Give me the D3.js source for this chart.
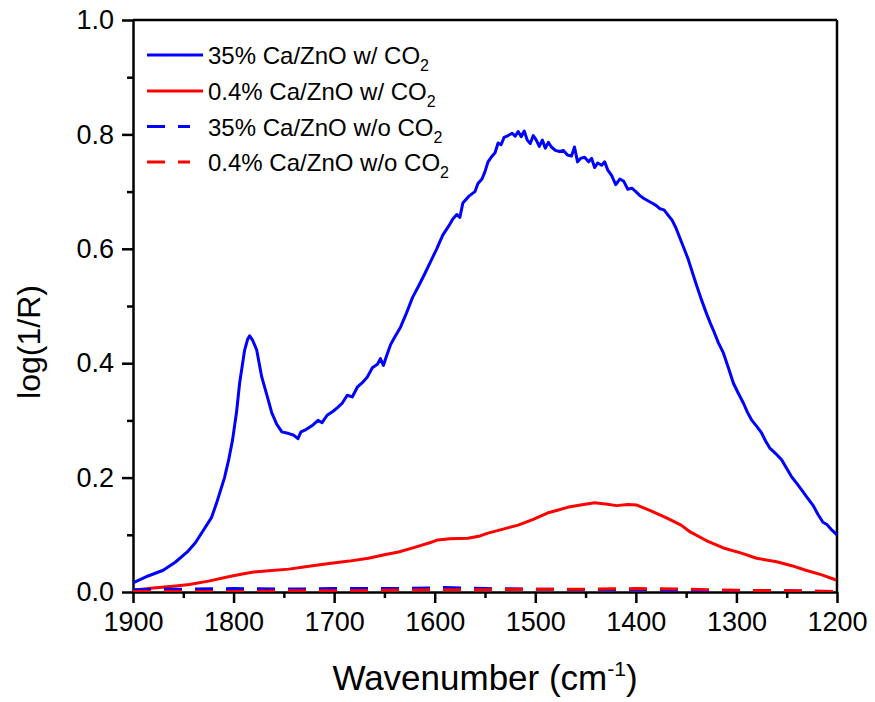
<!DOCTYPE html>
<html>
<head>
<meta charset="utf-8">
<script src="https://cdn.jsdelivr.net/npm/d3@7"></script>
<style>
  body { margin: 0; background: #fff; }
  text { font-family: "Liberation Sans", Arial, sans-serif; fill: #000; }
</style>
</head>
<body>
<div id="chart"></div>
<script>
var svgWidth = 875;
var svgHeight = 702;

var margin = { top: 20, right: 38, bottom: 110, left: 133 };
var width = svgWidth - margin.left - margin.right;
var height = svgHeight - margin.top - margin.bottom;

// series data (wavenumber, log(1/R))
var blueWithCO2 = [
  [1900, 0.016], [1885, 0.028], [1870, 0.038], [1858, 0.052], [1846, 0.070], [1838, 0.086],
  [1830, 0.108], [1822, 0.130], [1817, 0.155], [1809, 0.200], [1805, 0.230], [1801, 0.266],
  [1797, 0.315], [1794, 0.365], [1789, 0.423], [1786, 0.442], [1784, 0.448], [1781, 0.440],
  [1777, 0.423], [1772, 0.376], [1767, 0.345], [1762, 0.313], [1757, 0.293], [1752, 0.280],
  [1745, 0.277], [1740, 0.274], [1736, 0.268], [1733, 0.280], [1728, 0.284], [1721, 0.292],
  [1716, 0.300], [1712, 0.296], [1707, 0.309], [1701, 0.316], [1697, 0.322], [1692, 0.330],
  [1687, 0.344], [1682, 0.341], [1677, 0.358], [1672, 0.366], [1667, 0.376], [1662, 0.392],
  [1657, 0.398], [1654, 0.408], [1651, 0.396], [1648, 0.412], [1644, 0.432], [1640, 0.445],
  [1634, 0.463], [1628, 0.488], [1622, 0.515], [1616, 0.535], [1610, 0.556], [1604, 0.578],
  [1598, 0.600], [1592, 0.624], [1586, 0.640], [1582, 0.652], [1578, 0.660], [1575, 0.655],
  [1572, 0.680], [1566, 0.692], [1560, 0.700], [1557, 0.714], [1553, 0.722], [1550, 0.735],
  [1547, 0.752], [1543, 0.762], [1540, 0.768], [1537, 0.785], [1534, 0.782], [1531, 0.795],
  [1527, 0.798], [1523, 0.802], [1520, 0.797], [1517, 0.805], [1514, 0.796], [1511, 0.806],
  [1508, 0.790], [1505, 0.784], [1502, 0.798], [1499, 0.790], [1496, 0.779], [1493, 0.790],
  [1490, 0.776], [1487, 0.786], [1484, 0.778], [1480, 0.772], [1476, 0.770], [1472, 0.772],
  [1468, 0.764], [1464, 0.762], [1461, 0.778], [1458, 0.752], [1455, 0.758], [1451, 0.760],
  [1447, 0.752], [1444, 0.758], [1441, 0.742], [1438, 0.750], [1434, 0.746], [1431, 0.752],
  [1428, 0.738], [1424, 0.728], [1420, 0.712], [1416, 0.722], [1412, 0.718], [1408, 0.704],
  [1404, 0.706], [1400, 0.700], [1396, 0.693], [1392, 0.688], [1388, 0.684], [1384, 0.680],
  [1380, 0.676], [1376, 0.670], [1372, 0.668], [1368, 0.659], [1364, 0.650], [1360, 0.636],
  [1356, 0.618], [1352, 0.600], [1348, 0.582], [1344, 0.560], [1340, 0.538], [1335, 0.512],
  [1330, 0.488], [1326, 0.470], [1323, 0.458], [1318, 0.436], [1313, 0.418], [1308, 0.392],
  [1303, 0.365], [1298, 0.347], [1293, 0.330], [1289, 0.314], [1285, 0.301], [1280, 0.290],
  [1275, 0.278], [1271, 0.264], [1267, 0.252], [1261, 0.242], [1255, 0.231], [1250, 0.216],
  [1245, 0.201], [1240, 0.190], [1235, 0.178], [1230, 0.166], [1224, 0.152], [1219, 0.136],
  [1214, 0.122], [1210, 0.118], [1205, 0.108], [1200, 0.100]
];

var redWithCO2 = [
  [1900, 0.003], [1880, 0.007], [1860, 0.010], [1844, 0.013], [1825, 0.019], [1804, 0.027],
  [1790, 0.032], [1780, 0.035], [1765, 0.037], [1745, 0.040], [1725, 0.045], [1705, 0.050],
  [1685, 0.054], [1666, 0.059], [1650, 0.065], [1636, 0.070], [1620, 0.078], [1605, 0.086],
  [1597, 0.091], [1585, 0.093], [1567, 0.094], [1555, 0.098], [1547, 0.103], [1532, 0.110],
  [1517, 0.117], [1502, 0.127], [1488, 0.138], [1478, 0.143], [1468, 0.148], [1455, 0.152],
  [1441, 0.156], [1430, 0.154], [1419, 0.151], [1408, 0.153], [1399, 0.152], [1385, 0.142],
  [1369, 0.129], [1355, 0.117], [1346, 0.105], [1330, 0.090], [1313, 0.077], [1295, 0.068],
  [1280, 0.059], [1260, 0.053], [1245, 0.046], [1231, 0.038], [1215, 0.030], [1201, 0.021]
];

var blueWithoutCO2 = [
  [1900, 0.004], [1850, 0.005], [1800, 0.006], [1750, 0.005], [1700, 0.006], [1650, 0.006],
  [1600, 0.007], [1590, 0.008], [1550, 0.006], [1500, 0.005], [1450, 0.004], [1400, 0.004],
  [1350, 0.003], [1300, 0.002], [1250, 0.002], [1200, 0.001]
];

var redWithoutCO2 = [
  [1900, 0.001], [1850, 0.001], [1800, 0.001], [1750, 0.002], [1700, 0.002], [1650, 0.003],
  [1600, 0.004], [1550, 0.004], [1500, 0.005], [1450, 0.005], [1400, 0.006], [1350, 0.005],
  [1300, 0.003], [1250, 0.002], [1200, 0.001]
];

var legendLabels = ["35% Ca/ZnO w/ CO", "0.4% Ca/ZnO w/ CO", "35% Ca/ZnO w/o CO", "0.4% Ca/ZnO w/o CO"];
var xTicks = [1900, 1800, 1700, 1600, 1500, 1400, 1300, 1200];
var xMinor = [1850, 1750, 1650, 1550, 1450, 1350, 1250];
var yTicks = [0, 0.2, 0.4, 0.6, 0.8, 1.0];
var yMinor = [0.1, 0.3, 0.5, 0.7, 0.9];

var series = [
  { data: blueWithCO2, color: "#0000ff", dash: null, label: legendLabels[0] },
  { data: redWithCO2, color: "#ff0000", dash: null, label: legendLabels[1] },
  { data: blueWithoutCO2, color: "#0000ff", dash: "18,13", label: legendLabels[2] },
  { data: redWithoutCO2, color: "#ff0000", dash: "18,13", label: legendLabels[3] }
];

var svg = d3.select("#chart")
  .append("svg")
  .attr("width", svgWidth)
  .attr("height", svgHeight);

var chartGroup = svg.append("g")
  .attr("transform", `translate(${margin.left}, ${margin.top})`);

var xScale = d3.scaleLinear().domain([1900, 1200]).range([0, width]);
var yScale = d3.scaleLinear().domain([0, 1]).range([height, 0]);

// minor ticks
chartGroup.append("g")
  .attr("transform", `translate(0, ${height})`)
  .call(d3.axisBottom(xScale).tickValues(xMinor).tickSize(6).tickFormat(""))
  .call(g => g.select(".domain").remove());
chartGroup.append("g")
  .call(d3.axisLeft(yScale).tickValues(yMinor).tickSize(6).tickFormat(""))
  .call(g => g.select(".domain").remove());

// major axes
var xAxis = chartGroup.append("g")
  .attr("transform", `translate(0, ${height})`)
  .call(d3.axisBottom(xScale).tickValues(xTicks).tickSize(11).tickSizeOuter(0).tickPadding(9).tickFormat(d3.format("d")));
var yAxis = chartGroup.append("g")
  .call(d3.axisLeft(yScale).tickValues(yTicks).tickSize(11).tickSizeOuter(0).tickPadding(8).tickFormat(d3.format(".1f")));

[xAxis, yAxis].forEach(function (ax) {
  ax.selectAll("text").style("font-size", "27px").style("font-family", "'Liberation Sans', Arial, sans-serif");
  ax.select(".domain").attr("stroke-width", 2.5);
});
chartGroup.selectAll(".tick line").attr("stroke-width", 2.5);

// frame top and right
chartGroup.append("line").attr("x1", 0).attr("x2", width).attr("y1", 0).attr("y2", 0)
  .attr("stroke", "#000").attr("stroke-width", 2.5);
chartGroup.append("line").attr("x1", width).attr("x2", width).attr("y1", 0).attr("y2", height)
  .attr("stroke", "#000").attr("stroke-width", 2.5);

svg.append("clipPath").attr("id", "clip")
  .append("rect").attr("x", 0).attr("y", -5).attr("width", width + 1).attr("height", height + 5);

var line = d3.line()
  .x(d => xScale(d[0]))
  .y(d => yScale(d[1]));

chartGroup.append("g").attr("clip-path", "url(#clip)")
  .selectAll("path")
  .data(series)
  .enter()
  .append("path")
  .attr("d", d => line(d.data))
  .attr("fill", "none")
  .attr("stroke", d => d.color)
  .attr("stroke-width", 3)
  .attr("stroke-linejoin", "round")
  .attr("stroke-dasharray", d => d.dash);

// legend
var legend = svg.append("g");
var rowY = [55, 91, 126.5, 162];
series.forEach(function (s, i) {
  legend.append("line")
    .attr("x1", 147).attr("x2", s.dash ? 190 : 203)
    .attr("y1", rowY[i]).attr("y2", rowY[i])
    .attr("stroke", s.color)
    .attr("stroke-width", 3)
    .attr("stroke-dasharray", s.dash);
  var t = legend.append("text")
    .attr("x", 208)
    .attr("y", rowY[i] + 9)
    .style("font-size", "24px");
  t.append("tspan").text(s.label);
  t.append("tspan").attr("dy", 7).style("font-size", "16px").text("2");
});

// axis titles
var xt = svg.append("text")
  .attr("x", margin.left + width / 2)
  .attr("y", 690)
  .attr("text-anchor", "middle")
  .style("font-size", "35px");
xt.append("tspan").text("Wavenumber (cm");
xt.append("tspan").attr("dy", -14).style("font-size", "21px").text("-1");
xt.append("tspan").attr("dy", 14).text(")");

svg.append("text")
  .attr("transform", "translate(40, 342) rotate(-90)")
  .attr("text-anchor", "middle")
  .style("font-size", "32px")
  .text("log(1/R)");
</script>
</body>
</html>
